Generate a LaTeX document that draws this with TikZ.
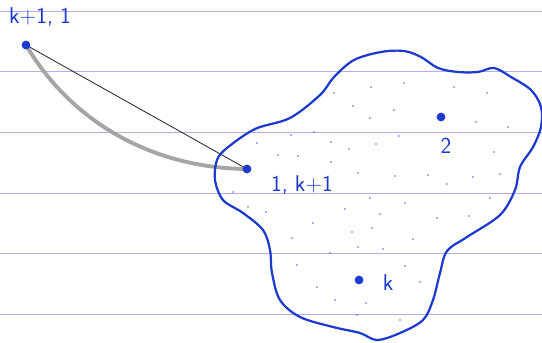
\documentclass[tikz,border=0pt]{standalone}
\usepackage{fontspec}
\usepackage{tikz}
\usetikzlibrary{positioning,calc,backgrounds}
\definecolor{pen}{RGB}{28,58,205}
\definecolor{rule}{RGB}{180,172,238}
\definecolor{pencil}{RGB}{165,165,165}
\tikzset{
  sor/.style={draw=rule,line width=0.7pt},
  folt/.style={draw=pen,line width=1.9pt,line join=round},
  pont/.style={circle,fill=pen,inner sep=0pt,minimum size=7.5pt},
  kispont/.style={circle,fill=pen!75,inner sep=0pt,minimum size=1.6pt},
  cimke/.style={text=pen,font=\fontsize{19.5}{22}\selectfont\sffamily,inner sep=1pt},
  egyenes/.style={draw=black!85,line width=0.7pt},
  ives/.style={draw=pencil,line width=3.3pt,line cap=round},
}

\begin{document}
\begin{tikzpicture}[x=0.03cm,y=-0.03cm]
  \useasboundingbox (0,0) rectangle (542,342);
  % ruled paper
  \begin{pgfonlayer}{background}
    \fill[white] (0,0) rectangle (542,342);
    \foreach \y in {11,71.5,132,193,253.5,314}
      \draw[sor] (0,\y) -- (542,\y);
  \end{pgfonlayer}
  % the region
  \draw[folt] plot[smooth cycle,tension=0.55] coordinates {
    (227,148) (255,129) (290,118) (320,95) (334,77) (354,60) (381,52)
    (404,51) (421,57) (438,68) (458,72) (478,72) (494,68) (511,77)
    (531,90) (541,107) (541,127) (533,147) (520,167) (515,190) (500,215)
    (467,237) (447,251) (440,273) (433,300) (423,320) (400,333) (377,340)
    (360,333) (333,327) (300,317) (280,300) (272,273) (270,250) (263,230)
    (243,213) (223,200) (215,180) (217,160)};
  % stippling
  \foreach \px/\py [count=\i] in {371/87,404/83,454/87,487/93,334/93,353/106,
      394/110,370/118,476/122,508/127,291/135,314/132,331/142,349/149,
      376/144,399/136,278/155,298/156,331/162,494/152,257/143,358/173,
      395/176,428/175,447/184,473/177,500/174,233/192,370/198,405/203,
      490/198,248/207,266/212,345/209,380/214,437/218,469/216,313/223,
      352/232,372/228,292/238,413/239,383/249,358/247,330/253,297/265,
      405/266,317/287,420/282,335/300,366/303,357/315,400/320}
    \node[kispont] (s\i) at (\px,\py) {};
  % points
  \node[pont] (a) at (26,45) {};
  \node[pont] (b) at (247,169) {};
  \node[pont] (c) at (441,117) {};
  \node[pont] (d) at (359,280) {};
  \node[cimke] (la) at (40,17) {k+1, 1};
  \node[cimke] (lb) at (302,185) {1, k+1};
  \node[cimke] (lc) at (446,146) {2};
  \node[cimke] (ld) at (388,283) {k};
  % edge and its curved image
  \begin{pgfonlayer}{background}
    \draw[egyenes] (a.center) -- (b.center);
    \draw[ives] (a.center) .. controls (70,120) and (150,168) .. (b.center);
  \end{pgfonlayer}
\end{tikzpicture}
\end{document}
